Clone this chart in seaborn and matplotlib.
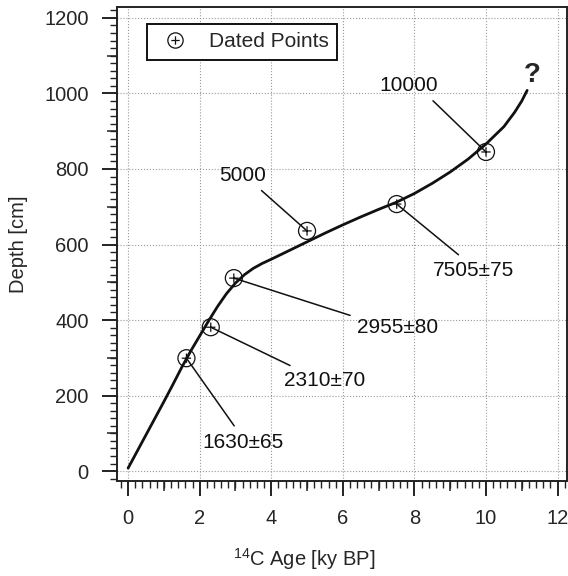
import matplotlib
matplotlib.use('Agg')
import matplotlib.pyplot as plt
import numpy as np
import pandas as pd
import seaborn as sns
from matplotlib.lines import Line2D
from matplotlib.path import Path
from matplotlib.ticker import MultipleLocator, NullLocator

# age-depth model (14C age in ky BP, depth in cm)
curve_age = [0.0, 0.25, 0.5, 0.75, 1.0, 1.25, 1.5, 1.75, 2.0, 2.25, 2.5, 2.75, 3.0,
             3.25, 3.5, 3.75, 4.0, 4.5, 5.0, 5.5, 6.0, 6.5, 7.0, 7.5, 8.0, 8.5, 9.0,
             9.5, 10.0, 10.5, 10.8, 11.0, 11.15]
curve_depth = [8, 52, 96, 140, 184, 229, 275, 318, 358, 398, 436, 470, 498,
               520, 537, 550, 561, 584, 607, 630, 652, 673, 693, 712, 735, 762, 792,
               826, 866, 912, 950, 980, 1008]

# dated samples
dated_age = [1.63, 2.31, 2.955, 5.0, 7.505, 10.0]
dated_depth = [299, 381, 511, 636, 707, 845]
dated_label = ['1630±65', '2310±70', '2955±80', '5000', '7505±75', '10000']

# label placement (text centre, data coords) and where the leader line leaves the text
label_xy = [(3.21, 77), (5.5, 241), (7.54, 381), (3.21, 784), (9.66, 532), (7.85, 1022)]
label_relpos = [(0.45, 1.0), (0.2, 1.0), (0.0, 1.0), (0.75, 0.0), (0.4, 1.0), (0.8, 0.0)]


def oplus_marker():
    arm = 0.55
    plus = Path([[-arm, 0], [arm, 0], [0, -arm], [0, arm]],
                [Path.MOVETO, Path.LINETO, Path.MOVETO, Path.LINETO])
    return Path.make_compound_path(Path.unit_circle(), plus)


def main():
    sns.set_style('ticks')
    plt.rcParams['font.family'] = ['Liberation Sans', 'DejaVu Sans']
    plt.rcParams['mathtext.fontset'] = 'custom'
    plt.rcParams['mathtext.rm'] = 'Liberation Sans'

    curve = pd.DataFrame({'age': curve_age, 'depth': curve_depth})
    dated = pd.DataFrame({'age': dated_age, 'depth': dated_depth, 'label': dated_label})
    marker = oplus_marker()

    fig = plt.figure(figsize=(5.68, 5.76), dpi=100)
    ax = fig.add_axes([0.206, 0.165, 0.792, 0.823])

    ax.grid(True, which='major', ls=':', color='#999999', lw=0.8)
    ax.set_axisbelow(True)

    sns.lineplot(data=curve, x='age', y='depth', ax=ax, color='#111111', lw=2.0,
                 sort=False, zorder=3)
    sns.scatterplot(data=dated, x='age', y='depth', ax=ax, marker=marker, s=150,
                    facecolor='none', edgecolor='#111111', linewidth=0.9, zorder=4)

    for (x, y), lab, (tx, ty), rp in zip(zip(dated.age, dated.depth), dated.label,
                                        label_xy, label_relpos):
        ax.annotate(lab, xy=(x, y), xytext=(tx, ty), ha='center', va='center',
                    fontsize=15, color='#111111',
                    arrowprops=dict(arrowstyle='-', lw=1.1, color='#111111',
                                    relpos=rp, shrinkA=3, shrinkB=1))

    ax.text(11.28, 1050, '?', fontsize=20, fontweight='bold', ha='center', va='center')

    ax.set_xlim(-0.31, 12.26)
    ax.set_ylim(-26, 1229)
    ax.xaxis.set_major_locator(MultipleLocator(2))
    ax.xaxis.set_minor_locator(MultipleLocator(0.2))
    ax.yaxis.set_major_locator(MultipleLocator(200))
    ax.yaxis.set_minor_locator(MultipleLocator(20))
    ax.tick_params(which='major', direction='out', length=10.5, width=1.4, pad=10,
                   labelsize=14.5, color='#222222')
    ax.tick_params(which='minor', direction='out', length=5, width=1.0, color='#222222')

    # medium ticks at the half-way marks
    secx = ax.secondary_xaxis('bottom')
    secx.set_xticks(np.arange(1, 12, 2))
    secx.xaxis.set_minor_locator(NullLocator())
    secx.tick_params(direction='out', length=7.5, width=1.1, labelbottom=False, color='#222222')
    secx.spines['bottom'].set_visible(False)
    secy = ax.secondary_yaxis('left')
    secy.set_yticks(np.arange(100, 1200, 200))
    secy.yaxis.set_minor_locator(NullLocator())
    secy.tick_params(direction='out', length=7.5, width=1.1, labelleft=False, color='#222222')
    secy.spines['left'].set_visible(False)

    for sp in ax.spines.values():
        sp.set_linewidth(1.4)
        sp.set_color('#222222')

    ax.set_xlabel('$^{14}$C Age [ky BP]', fontsize=14.5)
    ax.set_ylabel('Depth [cm]', fontsize=14.5)
    ax.xaxis.set_label_coords(0.416, -0.137)
    ax.yaxis.set_label_coords(-0.198, 0.5)

    handle = Line2D([], [], ls='none', marker=marker, markersize=11, markerfacecolor='none',
                    markeredgecolor='#111111', markeredgewidth=0.9)
    ax.legend([handle], ['Dated Points'], loc='upper left', bbox_to_anchor=(0.067, 0.964),
              borderaxespad=0, fontsize=15, frameon=True, fancybox=False, shadow=False,
              edgecolor='#111111', framealpha=1, borderpad=0.4, handlelength=1.9,
              handletextpad=0.65).get_frame().set_linewidth(1.4)

    fig.savefig('out.png', dpi=100)


if __name__ == '__main__':
    main()
